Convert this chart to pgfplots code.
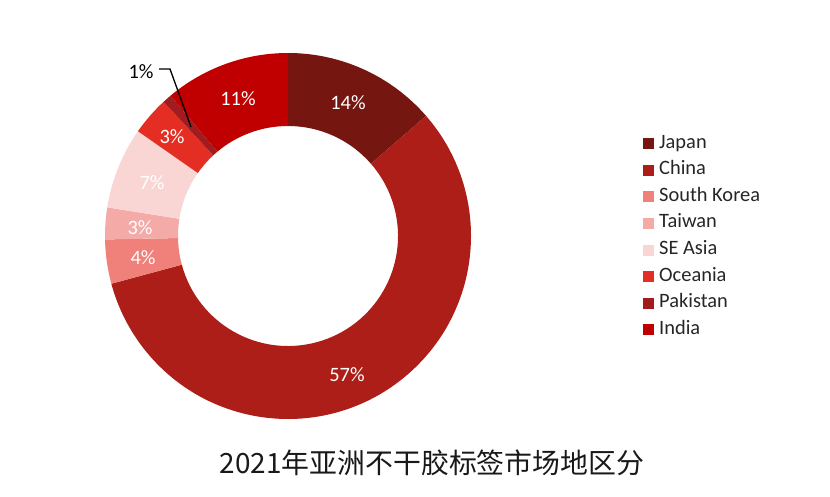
\documentclass[border=0pt]{standalone}
\usepackage{fontspec}
\setmainfont{Carlito}
\newfontfamily\cjk{Noto Sans CJK SC}
\usepackage{pgfplots}
\usepackage{pgfplotstable}
\pgfplotsset{compat=1.18}

\definecolor{c0}{RGB}{117,22,16}
\definecolor{c1}{RGB}{173,30,24}
\definecolor{c2}{RGB}{240,128,122}
\definecolor{c3}{RGB}{244,171,168}
\definecolor{c4}{RGB}{249,214,212}
\definecolor{c5}{RGB}{228,46,36}
\definecolor{c6}{RGB}{160,28,30}
\definecolor{c7}{RGB}{192,0,0}

\pgfplotstableread{
region value
Japan 13.6
China 57.2
SouthKorea 3.9
Taiwan 2.8
SEAsia 7.2
Oceania 3.4
Pakistan 0.8
India 11.1
}\datatable

\def\cumsum{0}
\pgfplotstableforeachcolumnelement{value}\of\datatable\as\val{%
  \pgfmathsetmacro\angA{90-3.6*\cumsum}%
  \pgfmathsetmacro\newcum{\cumsum+\val}%
  \pgfmathsetmacro\angB{90-3.6*\newcum}%
  \expandafter\xdef\csname startA\pgfplotstablerow\endcsname{\angA}%
  \expandafter\xdef\csname endA\pgfplotstablerow\endcsname{\angB}%
  \xdef\cumsum{\newcum}%
}

\begin{document}
\begin{tikzpicture}
\begin{axis}[
  width=830bp, height=496bp, scale only axis,
  xmin=0, xmax=830, ymin=0, ymax=496,
  hide axis, clip=false,
  legend image code/.code={\fill[#1] (0bp,-5.5bp) rectangle (11bp,5.5bp);},
  legend style={at={(axis cs:640,364)}, anchor=north west, draw=none, fill=none,
    font=\fontsize{20.5}{24}\selectfont, text=black!85, row sep=7.6bp,
    nodes={inner sep=0pt, text height=14bp, text depth=5bp}},
  legend cell align=left,
]
\path (axis cs:0,0) rectangle (axis cs:830,496);
\pgfplotsinvokeforeach{0,...,7}{
  \fill[c#1, shift={(axis cs:288,260)}]
    ({\csname startA#1\endcsname}:183bp)
    arc[start angle={\csname startA#1\endcsname}, end angle={\csname endA#1\endcsname}, radius=183bp]
    -- ({\csname endA#1\endcsname}:110bp)
    arc[start angle={\csname endA#1\endcsname}, end angle={\csname startA#1\endcsname}, radius=110bp]
    -- cycle;
}
\addlegendimage{fill=c0, draw=none}\addlegendentry{\hspace{5bp}Japan}
\addlegendimage{fill=c1, draw=none}\addlegendentry{\hspace{5bp}China}
\addlegendimage{fill=c2, draw=none}\addlegendentry{\hspace{5bp}South Korea}
\addlegendimage{fill=c3, draw=none}\addlegendentry{\hspace{5bp}Taiwan}
\addlegendimage{fill=c4, draw=none}\addlegendentry{\hspace{5bp}SE Asia}
\addlegendimage{fill=c5, draw=none}\addlegendentry{\hspace{5bp}Oceania}
\addlegendimage{fill=c6, draw=none}\addlegendentry{\hspace{5bp}Pakistan}
\addlegendimage{fill=c7, draw=none}\addlegendentry{\hspace{5bp}India}

\begin{scope}[every node/.style={font=\fontsize{20.5}{24}\selectfont, text=white}]
\node at (axis cs:348,393) {14\%};
\node at (axis cs:347,121) {57\%};
\node at (axis cs:143,238) {4\%};
\node at (axis cs:140,268) {3\%};
\node at (axis cs:152,313) {7\%};
\node at (axis cs:172,359) {3\%};
\node at (axis cs:238,397) {11\%};
\node[text=black] at (axis cs:141,424) {1\%};
\end{scope}
\draw[black, line width=1.3bp] (axis cs:159,427) -- (axis cs:170,427) -- (axis cs:191,369);
\node[font=\cjk\fontsize{28}{32}\selectfont, text=black!90] at (axis cs:432,33) {2021年亚洲不干胶标签市场地区分};
\end{axis}
\end{tikzpicture}
\end{document}
